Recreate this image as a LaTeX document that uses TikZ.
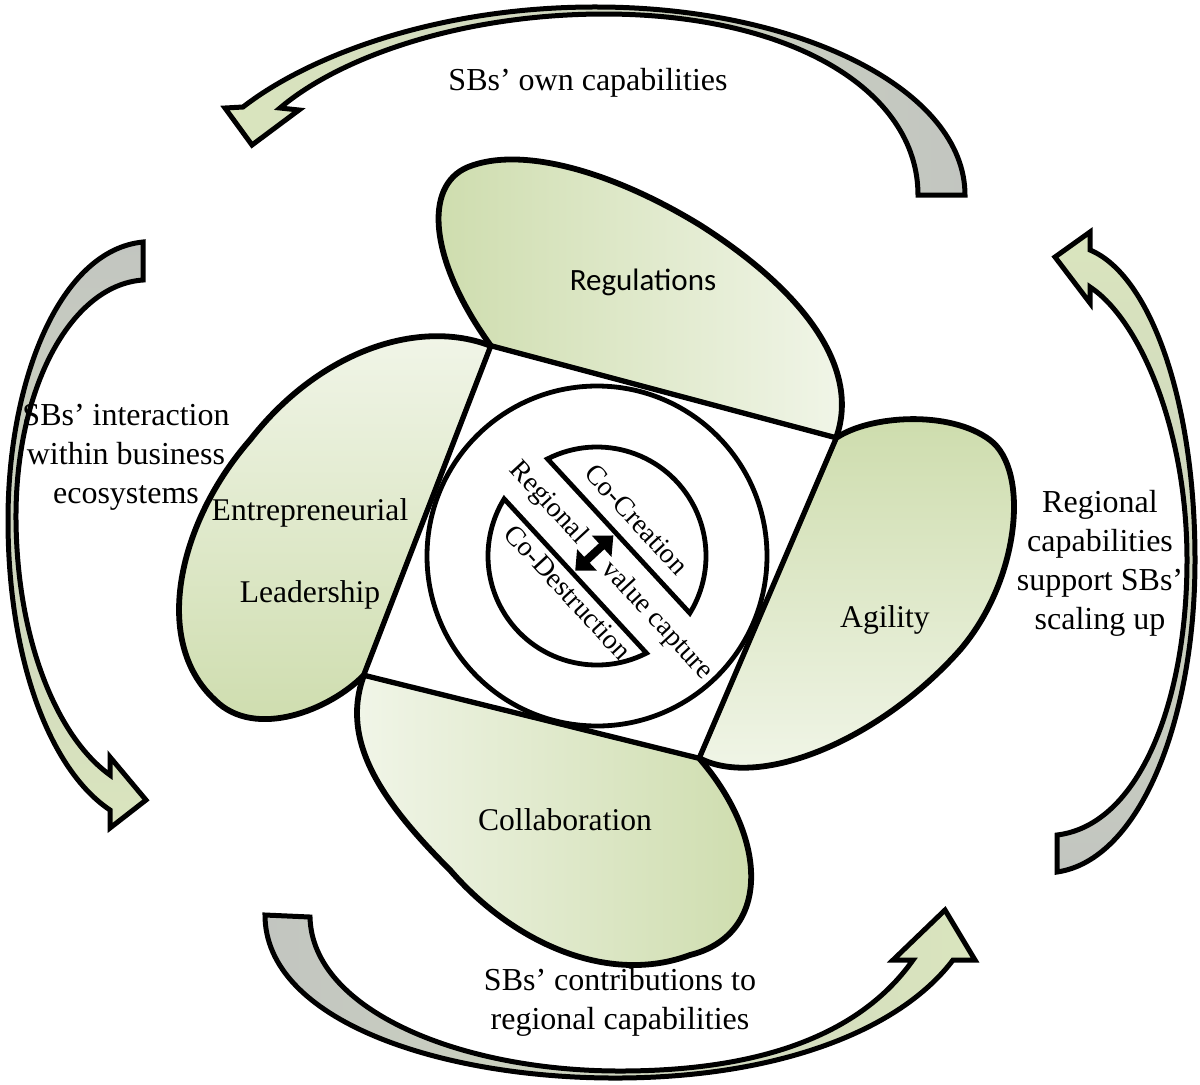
\documentclass[tikz,border=0pt]{standalone}
\usepackage{fontspec}
\setmainfont{Liberation Serif}
\newfontfamily\petalsans{Carlito}
\usetikzlibrary{arrows.meta,calc}
\definecolor{leafdark}{RGB}{205,220,172}
\definecolor{leaflight}{RGB}{242,246,234}
\definecolor{arrowgray}{RGB}{194,197,192}
\definecolor{arrowgreen}{RGB}{218,229,190}

\begin{document}
\begin{tikzpicture}[x=0.5pt, y=-0.5pt,
  petal/.style={draw=black, line width=2.9pt, line join=round},
  bigarrow/.style={draw=black, line width=2.5pt, line join=miter},
  core/.style={draw=black, line width=2.4pt, fill=white},
  outertext/.style={font=\fontsize{16}{19.5}\selectfont, align=center},
  petaltext/.style={font=\fontsize{15.8}{19.5}\selectfont},
  coretext/.style={font=\fontsize{14}{16}\selectfont, rotate=-47.3, inner sep=0pt}]
  \useasboundingbox (0,0) rectangle (1200,1084);

  \coordinate (sqA) at (491,346);
  \coordinate (sqB) at (836,438);
  \coordinate (sqC) at (699,758);
  \coordinate (sqD) at (364,675);
  \coordinate (hub) at (597,556);

  % cycle arrows
  \draw[bigarrow, left color=arrowgreen, right color=arrowgray]
    (965,195) .. controls (965,90) and (800,8) .. (600,7)
    .. controls (440,6) and (310,55) .. (243,107)
    -- (225,108) -- (252,145) -- (299,110) -- (280,108)
    .. controls (340,57) and (460,15) .. (600,14)
    .. controls (790,13) and (918,90) .. (918,195) -- cycle;
  \draw[bigarrow, top color=arrowgray, bottom color=arrowgreen]
    (143,242) .. controls (60,250) and (8,380) .. (8,520)
    .. controls (8,660) and (50,770) .. (110,810)
    -- (110,828) -- (146,800) -- (110,757) -- (110,775)
    .. controls (57,737) and (17,640) .. (16,520)
    .. controls (15,390) and (70,285) .. (143,280) -- cycle;
  \draw[bigarrow, left color=arrowgray, right color=arrowgreen]
    (265,915) .. controls (265,1020) and (440,1079) .. (620,1078)
    .. controls (780,1077) and (900,1030) .. (953,960)
    -- (975,960) -- (945,910) -- (893,960) -- (913,960)
    .. controls (860,1035) and (760,1071) .. (620,1071)
    .. controls (460,1071) and (312,1010) .. (310,917) -- cycle;
  \draw[bigarrow, top color=arrowgreen, bottom color=arrowgray]
    (1057,872) .. controls (1140,860) and (1195,720) .. (1195,560)
    .. controls (1195,400) and (1150,275) .. (1090,250)
    -- (1090,232) -- (1055,257) -- (1090,303) -- (1090,287)
    .. controls (1140,320) and (1187,430) .. (1187,560)
    .. controls (1187,700) and (1140,825) .. (1057,835) -- cycle;

  % petals
  \draw[petal, left color=leafdark, right color=leaflight]
    (sqA) -- (sqB) .. controls (860,372) and (810,295) .. (700,225)
    .. controls (610,170) and (520,146) .. (468,167)
    .. controls (422,186) and (430,262) .. (sqA) -- cycle;
  \draw[petal, top color=leaflight, bottom color=leafdark]
    (sqD) -- (sqA) .. controls (420,318) and (320,350) .. (250,440)
    .. controls (180,520) and (150,640) .. (215,700)
    .. controls (255,740) and (330,710) .. (sqD) -- cycle;
  \draw[petal, top color=leafdark, bottom color=leaflight]
    (sqB) -- (sqC) .. controls (760,790) and (880,740) .. (960,650)
    .. controls (1020,580) and (1030,470) .. (990,440)
    .. controls (950,410) and (870,415) .. (sqB) -- cycle;
  \draw[petal, left color=leaflight, right color=leafdark]
    (sqC) -- (sqD) .. controls (340,740) and (380,800) .. (450,870)
    .. controls (515,945) and (610,985) .. (690,955)
    .. controls (770,935) and (770,840) .. (sqC) -- cycle;

  % centre
  \draw[core] (sqA) -- (sqB) -- (sqC) -- (sqD) -- cycle;
  \draw[core] (hub) circle[radius=170];
  \draw[core] ($(hub)+(-117:109)$) arc[start angle=-117, end angle=31.6, radius=109] -- cycle;
  \draw[core] ($(hub)+(63:109)$) arc[start angle=63, end angle=211.6, radius=109] -- cycle;
  \draw[line width=4pt, {Triangle[length=8pt,width=14pt]}-{Triangle[length=8pt,width=14pt]}]
    ($(hub)+(137.3:26)+(227.3:4)$) -- ($(hub)+(-42.7:26)+(227.3:4)$);

  \node[coretext] (cocreation) at ($(hub)+(-42.7:54)$) {Co-Creation};
  \node[coretext] (codestruction) at ($(hub)+(137.3:46)+(47.3:7)$) {Co-Destruction};
  \node[coretext] (regional) at ($(hub)+(227.3:72)$) {Regional};
  \node[coretext] (valuecap) at ($(hub)+(47.3:88)$) {value capture};

  % labels
  \node[petaltext, font=\petalsans\fontsize{15.5}{19.5}\selectfont] (regulations) at (643,282) {Regulations};
  \node[petaltext] (entrepreneurial) at (310,513) {Entrepreneurial};
  \node[petaltext] (leadership) at (310,595) {Leadership};
  \node[petaltext] (agility) at (885,620) {Agility};
  \node[petaltext] (collaboration) at (565,820) {Collaboration};

  \node[outertext] (owncap) at (588,83) {SBs’ own capabilities};
  \node[outertext] (interaction) at (126,457) {SBs’ interaction\\within business\\ecosystems};
  \node[outertext] (scaling) at (1100,563) {Regional\\capabilities\\support SBs’\\scaling up};
  \node[outertext] (contrib) at (620,1002) {SBs’ contributions to\\regional capabilities};
\end{tikzpicture}
\end{document}
